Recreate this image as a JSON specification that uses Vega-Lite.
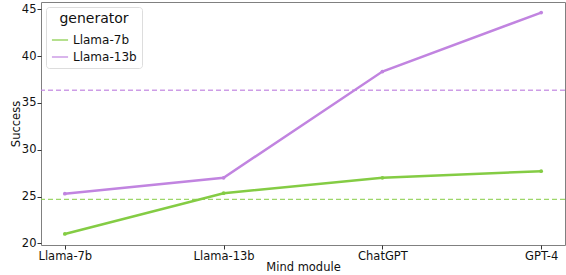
{
  "$schema": "https://vega.github.io/schema/vega-lite/v6.json",
  "width": 524,
  "height": 243,
  "autosize": {"type": "none"},
  "padding": {"left": 41, "top": 2, "right": 1, "bottom": 30},
  "background": "white",
  "config": {
    "font": "DejaVu Sans",
    "view": {"stroke": "#808080", "strokeWidth": 1},
    "axis": {"grid": false, "domain": false, "tickColor": "#333", "tickSize": 4, "labelPadding": 1, "labelColor": "#111", "labelFontSize": 11.5, "titleFontSize": 11.5, "titleFontWeight": "normal", "titleColor": "#111"}
  },
  "datasets": {
    "lines": [
      {"model": "Llama-7b", "generator": "Llama-7b", "success": 21.0},
      {"model": "Llama-13b", "generator": "Llama-7b", "success": 25.35},
      {"model": "ChatGPT", "generator": "Llama-7b", "success": 27.0},
      {"model": "GPT-4", "generator": "Llama-7b", "success": 27.7},
      {"model": "Llama-7b", "generator": "Llama-13b", "success": 25.3},
      {"model": "Llama-13b", "generator": "Llama-13b", "success": 27.0},
      {"model": "ChatGPT", "generator": "Llama-13b", "success": 38.35},
      {"model": "GPT-4", "generator": "Llama-13b", "success": 44.65}
    ],
    "baselines": [
      {"generator": "Llama-7b", "success": 24.7},
      {"generator": "Llama-13b", "success": 36.35}
    ]
  },
  "layer": [
    {
      "data": {"name": "baselines"},
      "mark": {"type": "rule", "strokeDash": [5, 3], "strokeWidth": 1.3, "opacity": 0.8},
      "encoding": {
        "y": {"field": "success", "type": "quantitative"},
        "color": {"field": "generator", "type": "nominal"}
      }
    },
    {
      "data": {"name": "lines"},
      "mark": {"type": "line", "strokeWidth": 2.5, "point": {"size": 14, "filled": true, "opacity": 1}},
      "encoding": {
        "x": {"field": "model", "type": "ordinal", "sort": ["Llama-7b", "Llama-13b", "ChatGPT", "GPT-4"], "scale": {"type": "point", "padding": 0.15}, "axis": {"title": "Mind module", "labelAngle": 0, "titlePadding": 0}},
        "y": {"field": "success", "type": "quantitative", "scale": {"domain": [19.82, 45.78], "nice": false, "zero": false}, "axis": {"title": "Success", "values": [20, 25, 30, 35, 40, 45], "titleX": -25, "titleBaseline": "middle"}},
        "color": {"field": "generator", "type": "nominal", "scale": {"domain": ["Llama-7b", "Llama-13b"], "range": ["#84cc44", "#c184e0"]},
          "legend": {"title": "generator", "orient": "top-left", "offset": 5, "titleFontSize": 14, "titleFontWeight": "normal", "titleColor": "#111", "labelFontSize": 12, "labelColor": "#111", "symbolType": "stroke", "symbolStrokeWidth": 1.5, "symbolSize": 260, "fillColor": "white", "strokeColor": "#ddd", "padding": 5, "cornerRadius": 3, "titleAlign": "center", "titleAnchor": "middle", "rowPadding": 2}}
      }
    }
  ]
}
